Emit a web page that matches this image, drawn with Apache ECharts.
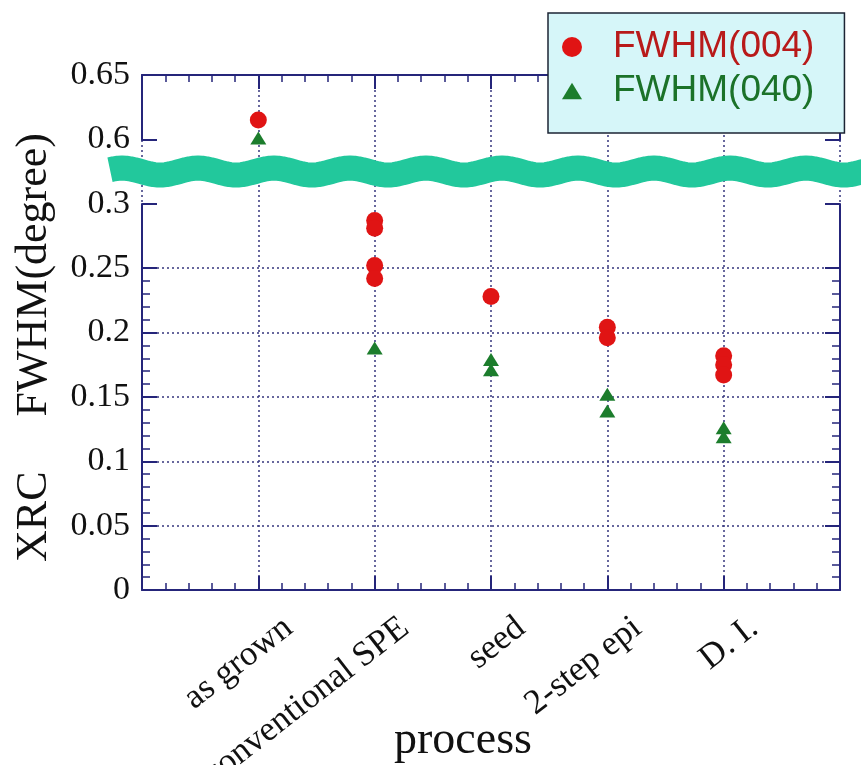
<!DOCTYPE html>
<html>
<head>
<meta charset="utf-8">
<script src="https://cdn.jsdelivr.net/npm/echarts@6/dist/echarts.min.js"></script>
<style>
    html, body { margin: 0; background: #fff; }
    #chart { width: 861px; height: 765px; }
</style>
</head>
<body>
<div id="chart"></div>
<script>
// Process steps along the x axis (placed at 1..5)
const categories = ['as grown', 'conventional SPE', 'seed', '2-step epi', 'D. I.'];

// Measured XRC FWHM values (degree), several samples per process
const fwhm004 = [
    [0.615],
    [0.287, 0.281, 0.252, 0.242],
    [0.228],
    [0.204, 0.196],
    [0.182, 0.175, 0.167]
];
const fwhm040 = [
    [0.601],
    [0.188],
    [0.179, 0.171],
    [0.152, 0.139],
    [0.126, 0.119]
];

// Broken y axis: 0.3 -> 0.6 squeezed into one tick step
const yBreak = { start: 0.3, end: 0.6, gap: 0.05 };

const axisColor = '#25257a';
const gridColor = '#36367e';
const serif = '"Liberation Serif", "Times New Roman", serif';
const sans = '"Liberation Sans", Arial, sans-serif';

function toPoints(groups)
{
    return groups.flatMap((vals, i) => vals.map(v => [i + 1, v]));
}

// Box axes: ticks point inward, with 4 minor ticks between majors
function frameAxis(extra)
{
    return Object.assign({
        type: 'value',
        axisLine: { show: true, onZero: false, lineStyle: { color: axisColor, width: 2 } },
        axisTick: { show: true, inside: true, length: 14, lineStyle: { color: axisColor, width: 2 } },
        minorTick: { show: true, splitNumber: 5, length: 7, lineStyle: { color: axisColor, width: 1.5 } },
        axisLabel: { show: false },
        splitLine: { show: false }
    }, extra);
}

const dotted = { show: true, lineStyle: { color: gridColor, type: [2, 3], width: 1.5 } };

const option = {
    animation: false,
    backgroundColor: '#fff',
    grid: { left: 142, right: 21, top: 75, bottom: 175, containLabel: false, outerBoundsMode: 'none' },
    legend: {
        left: 548,
        top: 13,
        orient: 'vertical',
        selectedMode: false,
        itemWidth: 20,
        itemHeight: 20,
        itemGap: 2,
        padding: [13, 30, 21, 14],
        backgroundColor: '#d6f6f9',
        borderColor: '#1c2434',
        borderWidth: 1.5,
        z: 10,
        textStyle: { fontFamily: sans, fontSize: 37, lineHeight: 42, padding: [0, 0, 0, 26] },
        data: [
            { name: 'FWHM(004)', icon: 'circle', textStyle: { color: '#b81a1a' } },
            { name: 'FWHM(040)', icon: 'path://M9,0L18,15L0,15Z', textStyle: { color: '#1b7229' } }
        ]
    },
    xAxis: [
        frameAxis({
            position: 'bottom', min: 0, max: categories.length + 1, interval: 1,
            splitLine: dotted,
            name: 'process',
            nameLocation: 'middle',
            nameGap: 128,
            nameTextStyle: { fontFamily: serif, fontSize: 46, color: '#111', padding: [0, 56, 0, 0] }
        }),
        frameAxis({ position: 'top', min: 0, max: categories.length + 1, interval: 1 }),
        {
            // label-only axis, shifted so the slanted names end right of their ticks
            type: 'value',
            position: 'bottom',
            min: -0.26,
            max: categories.length + 1 - 0.26,
            axisLine: { show: false },
            axisTick: { show: false },
            splitLine: { show: false },
            axisLabel: {
                customValues: categories.map((c, i) => i + 1),
                formatter: v => categories[Math.round(v) - 1] || '',
                rotate: 38,
                margin: 34,
                fontFamily: serif,
                fontSize: 35,
                color: '#111'
            }
        }
    ],
    yAxis: [
        frameAxis({
            position: 'left', min: 0, max: 0.65, interval: 0.05,
            breaks: [yBreak],
            breakArea: { show: false },
            axisTick: { show: true, inside: true, length: 15, lineStyle: { color: axisColor, width: 2 } },
            minorTick: { show: true, splitNumber: 5, length: 8, lineStyle: { color: axisColor, width: 1.5 } },
            splitLine: dotted,
            axisLabel: { show: true, margin: 12, fontFamily: serif, fontSize: 34, color: '#111' },
            name: 'XRC     FWHM(degree)',
            nameLocation: 'middle',
            nameGap: 86,
            nameTextStyle: { fontFamily: serif, fontSize: 44, color: '#111', padding: [0, 30, 0, 0] }
        }),
        frameAxis({
            position: 'right', min: 0, max: 0.65, interval: 0.05,
            breaks: [yBreak],
            breakArea: { show: false },
            axisTick: { show: true, inside: true, length: 15, lineStyle: { color: axisColor, width: 2 } },
            minorTick: { show: true, splitNumber: 5, length: 8, lineStyle: { color: axisColor, width: 1.5 } }
        })
    ],
    series: [
        {
            name: 'FWHM(004)',
            type: 'scatter',
            symbol: 'circle',
            symbolSize: 17,
            itemStyle: { color: '#e01414', opacity: 1 },
            data: toPoints(fwhm004)
        },
        {
            name: 'FWHM(040)',
            type: 'scatter',
            symbol: 'triangle',
            symbolSize: [16, 13],
            itemStyle: { color: '#1c7d2c', opacity: 1 },
            data: toPoints(fwhm040)
        }
    ]
};

const chart = echarts.init(document.getElementById('chart'));
chart.setOption(option);

// Wavy band marking the axis break, drawn across the gap
const yLow = chart.convertToPixel({ yAxisIndex: 0 }, yBreak.start);
const yHigh = chart.convertToPixel({ yAxisIndex: 0 }, yBreak.end);
const bandY = (yLow + yHigh) / 2;
const wave = [];
for (let x = 110; x <= 870; x += 4)
{
    wave.push([x, bandY - 3.5 * Math.cos(2 * Math.PI * (x - 198) / 76)]);
}
chart.setOption({
    graphic: [{
        type: 'polyline',
        z: 50,
        shape: { points: wave },
        style: { stroke: '#22c89c', lineWidth: 25, lineCap: 'butt', lineJoin: 'round', fill: null }
    }]
});
</script>
</body>
</html>
